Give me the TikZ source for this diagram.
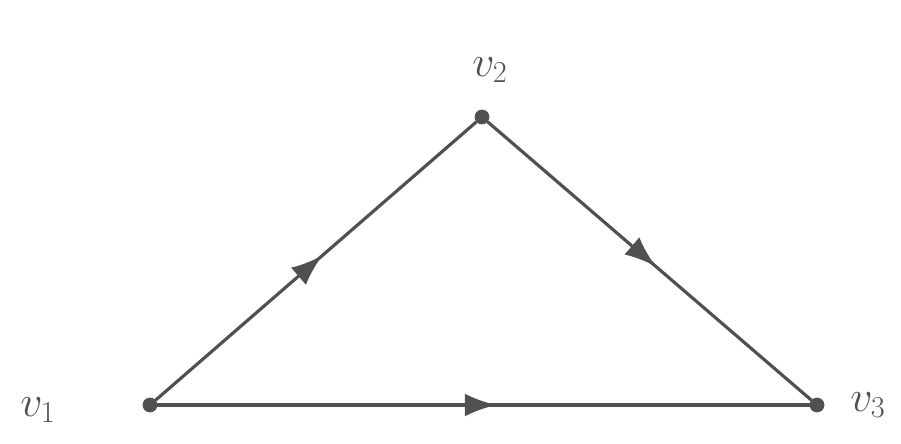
\documentclass[tikz,border=0pt]{standalone}
\usetikzlibrary{decorations.markings,arrows.meta}
\definecolor{ink}{HTML}{505050}
\begin{document}
\begin{tikzpicture}[x=0.02cm,y=-0.02cm,
  vert/.style={circle,fill=ink,draw=ink,inner sep=0pt,minimum size=8pt},
  lbl/.style={text=ink,font=\fontsize{24}{26}\selectfont},
  edge/.style={draw=ink,line width=1.8pt,postaction={decorate},
    decoration={markings,mark=at position 0.52 with {\arrow{Latex[length=18pt,width=13pt]}}}}]
\useasboundingbox (0,0) rectangle (901,443);
\node[vert] (v1) at (150,405) {};
\node[vert] (v2) at (482,117) {};
\node[vert] (v3) at (817,405) {};
\node[lbl] (l1) at (38,410) {$v_1$};
\node[lbl] (l2) at (490,70) {$v_2$};
\node[lbl] (l3) at (868,405) {$v_3$};
\draw[edge] (v1) -- (v2);
\draw[edge] (v2) -- (v3);
\draw[edge] (v1) -- (v3);
\end{tikzpicture}
\end{document}
